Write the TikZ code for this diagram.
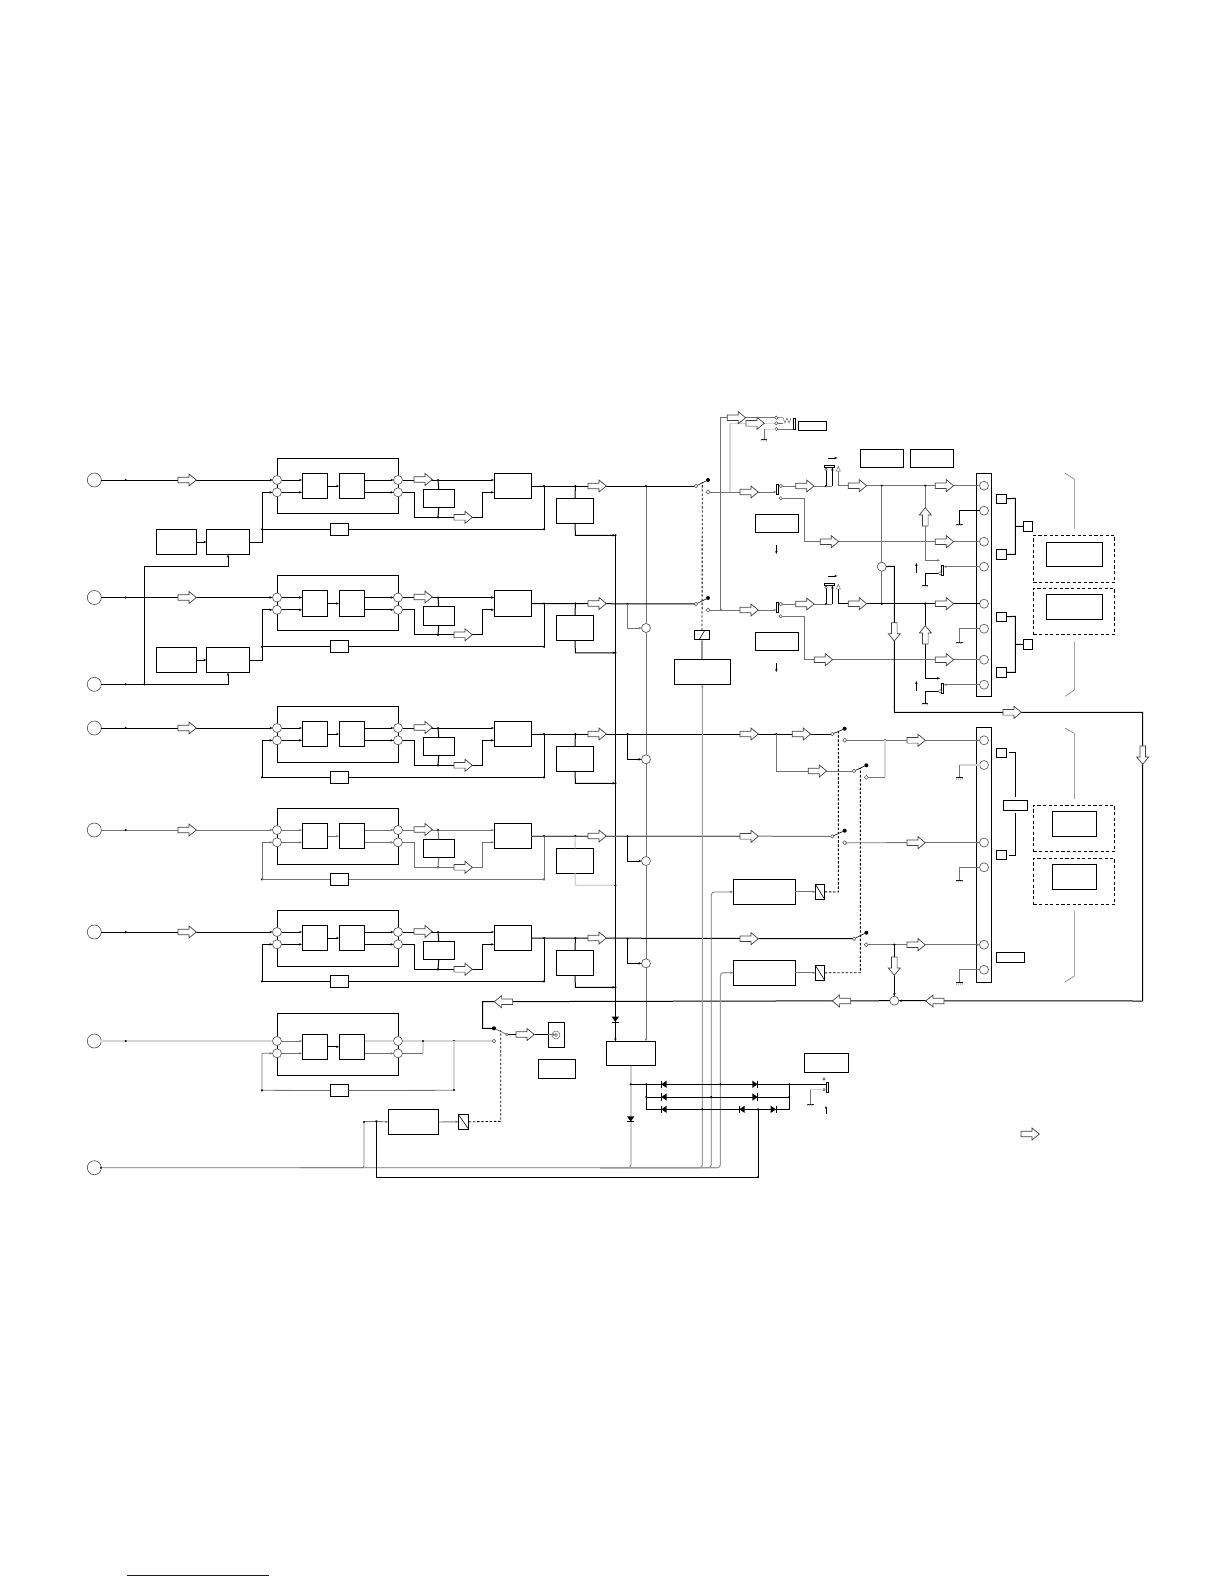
\documentclass[tikz,border=0pt]{standalone}
\usetikzlibrary{arrows.meta,shapes.geometric,calc}
\definecolor{gl}{gray}{0.45}
\definecolor{lg}{gray}{0.84}
\def\lc{black}\def\lw{1pt}
\tikzset{
 >={Stealth[length=3pt,width=2.4pt]},
 ln/.style={draw=\lc,line width=\lw},
 blk/.style={draw=black,line width=1pt},
 gry/.style={draw=gl,line width=.8pt},
 lgt/.style={draw=lg,line width=1.4pt},
 mid/.style={draw=black!40,line width=1.1pt},
 box/.style={draw=black,line width=.9pt,fill=white,inner sep=0pt,outer sep=0pt},
 incir/.style={circle,draw=black!70,line width=.6pt,fill=white,minimum size=14pt,inner sep=0pt,outer sep=0pt},
 midcir/.style={circle,draw=black!70,line width=.6pt,fill=white,minimum size=9pt,inner sep=0pt,outer sep=0pt},
 jd/.style={circle,fill=black,draw=none,minimum size=2.4pt,inner sep=0pt,outer sep=0pt},
 swdot/.style={circle,fill=black,draw=none,minimum size=4pt,inner sep=0pt,outer sep=0pt},
 contact/.style={circle,draw=black!70,fill=white,line width=.5pt,minimum size=3.4pt,inner sep=0pt,outer sep=0pt},
 dia/.style={diamond,draw=black!70,fill=white,line width=.5pt,minimum size=4pt,inner sep=0pt,outer sep=0pt},
 dbox/.style={draw=black,line width=.9pt,dashed,dash pattern=on 3.2pt off 2.4pt,inner sep=0pt,outer sep=0pt},
 dsh/.style={draw=black,line width=.9pt,dash pattern=on 2.4pt off 1.8pt},
}
\newcounter{jc}
\newcommand\J[2]{\stepcounter{jc}\node[jd] (j\arabic{jc}) at (#1,#2) {};}
\newcommand\myBox[5]{%
 \pgfmathsetmacro\bwd{#4-#2}\pgfmathsetmacro\bht{#5-#3}%
 \pgfmathsetmacro\bcx{(#2+#4)/2}\pgfmathsetmacro\bcy{(#3+#5)/2}%
 \node[box,minimum width=\bwd pt,minimum height=\bht pt] (#1) at (\bcx,\bcy) {};}
\newcommand\myDash[5]{%
 \pgfmathsetmacro\bwd{#4-#2}\pgfmathsetmacro\bht{#5-#3}%
 \pgfmathsetmacro\bcx{(#2+#4)/2}\pgfmathsetmacro\bcy{(#3+#5)/2}%
 \node[dbox,minimum width=\bwd pt,minimum height=\bht pt] (#1) at (\bcx,\bcy) {};}
% hollow arrows: tail at (x,y), angle
\newcommand\ha[3]{\begin{scope}[shift={(#1,#2)},rotate=#3]
 \draw[draw=black!75,fill=white,line width=.7pt] (0,-2.8)--(11,-2.8)--(11,-6)--(18.3,0)--(11,6)--(11,2.8)--(0,2.8)--cycle;
 \end{scope}}
\newcommand\haR[2]{\ha{#1}{#2}{0}}
\newcommand\haL[2]{\ha{#1+18.3}{#2}{180}}
\newcommand\haD[2]{\ha{#1}{#2}{-90}}
\newcommand\haU[2]{\ha{#1}{#2+18.3}{90}}
\newcommand\Dio[3]{\begin{scope}[shift={(#1,#2)},rotate=#3]
 \fill[black] (-2.6,-3.6)--(-2.6,3.6)--(2.6,0)--cycle;
 \draw[blk] (2.8,-3.6)--(2.8,3.6);
 \end{scope}}
\newcommand\Gnd[2]{\begin{scope}[shift={(#1,#2)}]
 \draw[blk] (-3.4,0)--(3.4,0);
 \draw[gry,line width=.4pt] (-2.6,0)--(-3.2,2) (-.6,0)--(-1.2,2) (1.4,0)--(.8,2) (3,0)--(2.4,2);
 \end{scope}}
% input, splitters, two inner boxes
\newcommand\core[4]{\begin{scope}[shift={(0,#2)}]
 \draw[blk] (277,#3) rectangle (398,#4);
 \node[incir] (#1in) at (94.3,480) {};
 \node[midcir] (#1ca) at (277,480) {};
 \node[midcir] (#1cb) at (277,492.3) {};
 \node[midcir] (#1cc) at (398,480) {};
 \node[midcir] (#1cd) at (398,492.3) {};
 \myBox{#1a}{302}{473.3}{327.5}{498.7}
 \myBox{#1b}{339}{473.3}{364.6}{498.7}
 \draw[ln,->] (#1in) -- (#1ca);
 \J{125.7}{480}
 \draw[ln,->] (#1ca) -- (#1a.west|-#1ca);
 \draw[ln,->] (#1cb) -- (#1a.west|-#1cb);
 \draw[ln,->] (#1a) -- (#1b);
 \draw[ln,->] (#1b.east|-#1cc) -- (#1cc);
 \draw[ln,->] (#1b.east|-#1cd) -- (#1cd);
 \end{scope}}
% remainder of a channel: prefix, dy, target of output, colour of the G lower lead
\newcommand\chan[4]{\begin{scope}[shift={(0,#2)}]
 \myBox{#1s}{423}{489.3}{454.6}{507.7}
 \myBox{#1d}{494}{473.3}{531.4}{498.7}
 \myBox{#1g}{556.4}{498.3}{593.6}{523.3}
 \myBox{#1f}{330}{523.3}{348.6}{535.3}
 \draw[ln,->] (#1cc) -- (#1d.west|-#1cc);
 \J{438}{480}\J{438}{517.3}
 \draw[ln] (438,480) -- (#1s.north);
 \draw[ln] (#1s.south) -- (438,517.3);
 \draw[ln,->] (#1cd) -- (414,492.3) -- (414,517.3) -- (482.5,517.3) -- (482.5,492.3) -- (#1d.west|-#1cd);
 \draw[ln] (#1d.east) -- (#3);
 \J{544}{486}\J{575.4}{486}\J{544}{529.3}\J{262}{529.3}
 \draw[ln] (544,486) -- (544,529.3) -- (#1f.east);
 \draw[ln,->] (#1f.west) -- (262,529.3) -- (262,492.3) -- (#1cb);
 \draw[#4] (575.4,486) -- (#1g.north);
 \draw[#4,->] (#1g.south) -- (575.4,535.3) -- (615.4,535.3);
 \J{615.4}{535.3}
 \haR{414}{479.5}\haR{454}{517.3}\haR{588}{486}
 \end{scope}}
% upper amplifier outputs
\newcommand\amp[7]{\begin{scope}[shift={(0,#2)}]
 \myBox{#1bar}{776.3}{484}{778.7}{494.7}
 \myBox{#1top}{824.3}{465}{834.7}{467.3}
 \myBox{#1lab}{755.3}{514.3}{798.7}{532.7}
 \myBox{#1bar2}{941.7}{565.3}{943.7}{575.7}
 \myBox{#1p}{996.3}{494.3}{1006.7}{503.7}
 \myBox{#1q}{996.3}{549.3}{1006.7}{559.3}
 \myBox{#1r}{1023}{521.3}{1032.7}{531.3}
 \node[midcir] (#1k1) at (984,485.7) {};
 \node[midcir] (#1k2) at (984,510.7) {};
 \node[midcir] (#1k3) at (984,541.7) {};
 \node[midcir] (#1k4) at (984,566.7) {};
 \node[contact] (#1o1) at (780.7,486) {};
 \node[contact] (#1o2) at (780.7,498.3) {};
 \node[contact] (#1o4) at (940,573.3) {};
 \draw[gry,->] (#3) -- (#1bar.west|-#3);
 \draw[gry] (#1o1) -- (826,486);
 \J{826}{486}
 \draw[blk] (826,486) -- (826,468);
 \node[contact,minimum size=2.6pt] (#1o3) at (826,469.3) {};
 \draw[gry] (826,486) -- (832.3,486);
 \draw[blk,->] (832.3,486) -- (832.3,467.5);
 \draw[draw=black!60,fill=white,line width=.5pt] (836.3,471)--(838.3,466.3)--(840.3,471)--cycle;
 \draw[#4] (838.3,471) -- (838.3,485.7) -- (#1k1);
 \J{881.7}{485.7}\J{925.3}{485.7}
 \draw[#4,->] (925.3,485.7) -- (925.3,560.3) -- (940,560.3);
 \draw[gry] (#1o2) -- (804.3,498.3) -- (804.3,541.7) -- (#1k3);
 \draw[#5] (#1k2) -- (959.3,510.7) -- (959.3,524);
 \Gnd{959.3}{524}
 \draw[gry,->] (#1k4) -- (#1bar2.east|-#1k4);
 \draw[#6] (#1o4) -- (925,573.3) -- (925,585.3);
 \Gnd{925}{585.3}
 \draw[blk,->] (828.3,458) -- (837.3,458);
 \draw[blk,->] (776.3,545) -- (776.3,554);
 \draw[blk,->] (916.3,572.7) -- (916.3,563);
 \draw[blk] (#1p) -- (1015.3,498.3) -- (1015.3,554.3) -- (#1q);
 \draw[blk] (1015.3,526.5) -- (#1r);
 \haR{740}{492}\haR{795.7}{486}\haR{848.3}{485.7}\haR{935.3}{485.7}\haR{#7}{541.7}\haR{935.3}{541.7}
 \haU{925.3}{507.7}
 \end{scope}}
\begin{document}
\begin{tikzpicture}[x=1pt,y=-1pt]
\useasboundingbox (0,0) rectangle (1224,1584);
% blue rule
\draw[draw={rgb,255:red,10;green,10;blue,160},line width=1pt] (126.7,1575) -- (269,1575);
% switches on the main rails
\node[contact] (sw1a) at (696,486) {};
\node[swdot] (sw1b) at (708,480) {};
\node[dia] (sw1c) at (708,492) {};
\node[contact] (sw2a) at (696,604) {};
\node[swdot] (sw2b) at (708,598) {};
\node[dia] (sw2c) at (708,610) {};
\node[contact] (sw3a) at (832.3,734) {};
\node[swdot] (sw3b) at (844.7,728.7) {};
\node[dia] (sw3c) at (844.7,740.3) {};
\node[contact] (sw3d) at (854,771) {};
\node[swdot] (sw3e) at (866.3,765.3) {};
\node[dia] (sw3f) at (866.3,777.3) {};
\node[contact] (sw4a) at (832.3,836.3) {};
\node[swdot] (sw4b) at (844.7,830.7) {};
\node[dia] (sw4c) at (844.7,842.7) {};
\node[contact] (sw5a) at (854,938.7) {};
\node[swdot] (sw5b) at (866.3,932.7) {};
\node[dia] (sw5c) at (866.3,944.7) {};
\foreach \p in {1,2,3,4,5} {\draw[blk,line width=.6pt] (sw\p a) -- (sw\p b);}
\draw[blk,line width=.6pt] (sw3d) -- (sw3e);
% common verticals
\node[midcir] (m2) at (646,628) {};
\node[midcir] (m3) at (646,759.3) {};
\node[midcir] (m4) at (646,861) {};
\node[midcir] (m5) at (646,963.3) {};
\myBox{sw}{606.3}{1041.3}{655.7}{1065.7}
\draw[gry] (646,486) -- (m2) -- (m3) -- (m4) -- (m5);
\draw[gry,->] (m5) -- (sw.north-|m5);
\J{646}{486}
\draw[blk,->] (615.4,535.3) -- (615.4,1041.3);
% channels
\core{a}{0}{458.3}{513.3}
\core{b}{117.5}{458.3}{513.3}
\core{c}{248}{458.3}{514.3}
\def\lc{gl}
\core{d}{350}{458.3}{514.3}
\def\lc{black}
\core{e}{452}{458.3}{514.3}
\chan{a}{0}{sw1a}{blk}
\chan{b}{117.5}{sw2a}{blk}
\chan{c}{248}{sw3a}{blk}
\def\lc{gl}
\draw[draw=black!70,line width=1pt] (535,836.3) -- (740,836.3);
\chan{d}{350}{sw4a}{lgt}
\draw[draw=black!70,line width=1pt] (dd.east|-sw4a) -- (588,836.3);
\def\lc{black}
\chan{e}{452}{sw5a}{blk}
% branch lines to the small circles
\J{627.5}{604}\J{627.6}{734}\J{627.6}{836.3}\J{627.6}{938.7}
\draw[gry,->] (627.5,604) -- (627.5,628) -- (m2);
\draw[blk,->] (627.6,734) -- (627.6,759.3) -- (m3);
\draw[blk,->] (627.6,836.3) -- (627.6,861) -- (m4);
\draw[blk,->] (627.6,938.7) -- (627.6,963.3) -- (m5);
% boxes E,F at channels 1,2
\myBox{e1}{206.4}{529.3}{249.6}{554.7}
\myBox{f1}{156.4}{529.3}{196.8}{554.7}
\myBox{e2}{206.4}{647.3}{249.6}{672.7}
\myBox{f2}{156.4}{647.3}{196.8}{672.7}
\node[incir] (in3) at (94.3,684.3) {};
\draw[blk,->] (f1) -- (e1);
\draw[blk,->] (f2) -- (e2);
\draw[blk] (e1) -- (262,542) -- (262,529.3);
\draw[blk] (e2) -- (262,660) -- (262,647);
\J{144.3}{684.3}\J{125.7}{684.3}
\draw[blk,->] (in3) -- (228,684.3) -- (e2.south);
\draw[blk,->] (144.3,684.3) -- (144.3,566.3) -- (228,566.3) -- (e1.south);
\haR{178}{480}\haR{178}{597.5}\haR{178}{728}\haR{178}{830}\haR{178}{932}
% channel 6
\draw[blk] (277,1013.3) rectangle (398,1075.3);
\node[incir] (f6in) at (94.3,1041) {};
\node[midcir] (f6a) at (277,1041) {};
\node[midcir] (f6b) at (277,1053.3) {};
\node[midcir] (f6c) at (398,1041) {};
\node[midcir] (f6d) at (398,1053.3) {};
\myBox{f6x}{302}{1034.3}{327.5}{1059.3}
\myBox{f6y}{339}{1034.3}{364.6}{1059.3}
\myBox{f6s}{330}{1084.3}{348.7}{1096.7}
\node[contact] (f6o) at (494,1041) {};
\node[swdot] (f6t) at (494,1028.3) {};
\draw[lgt,->] (f6in) -- (f6a);
\J{125.7}{1041}
\draw[gry,->] (f6a) -- (f6x.west|-f6a);
\draw[gry,->] (f6b) -- (f6x.west|-f6b);
\draw[blk,->] (f6x) -- (f6y);
\draw[lgt,->] (f6y.east|-f6c) -- (f6c);
\draw[gry,->] (f6y.east|-f6d) -- (f6d);
\draw[lgt] (f6c) -- (f6o);
\draw[gry] (f6d) -- (423,1053.3);
\draw[lgt] (423,1053.3) -- (423,1041);
\J{423}{1041}\J{454}{1041}
\draw[lgt] (454,1041) -- (454,1090.3);
\draw[gry] (454,1090.3) -- (f6s.east);
\J{454}{1090}
\draw[gry,->] (f6s.west) -- (262,1090.3) -- (262,1053.3) -- (f6b);
\J{262}{1090.3}
% coax output
\myBox{cx}{548.3}{1022.3}{564.3}{1047.7}
\myBox{cxl}{538.3}{1059.3}{575.7}{1078.7}
\draw[draw=black!60,line width=.5pt] (556,1035) circle (4) circle (1.5);
\node[contact,minimum size=2.6pt] (f6u) at (507,1034.5) {};
\draw[gry] (f6t) -- (f6u);
\draw[blk] (f6u) -- (cx.west|-f6u);
\draw[gry,->] (cx.west|-f6u) -- (556,1034.5);
\haR{516}{1034.5}
\node[midcir] (lp) at (894.3,1000.7) {};
\draw[blk] (lp) -- (482.7,1001.7) -- (482.7,1028.3) -- (f6t);
\draw[blk,->] (1142.7,1001) -- (lp);
% relay + amp, coax
\myBox{rb6}{388.3}{1109.3}{438.7}{1134.7}
\myBox{rl6}{458.3}{1114.3}{468.7}{1129.3}
\draw[gry,->] (rb6) -- (rl6);
\draw[blk,line width=.6pt] (rl6.north west) -- (rl6.south east);
\draw[dsh] (rl6.east) -- (500.7,1121.3) -- (500.7,1030);
% bottom rail
\node[incir] (in7) at (94.3,1167.7) {};
\J{101}{1167.7}
\draw[gry,rounded corners=3pt] (in7) -- (631,1167.7) -- (631,1065.7);
\draw[mid,rounded corners=3pt,->] (600,1167.7) -- (702.3,1167.7) -- (702.3,684.3);
\draw[gry,rounded corners=3pt] (600,1167.7) -- (711.3,1167.7) -- (711.3,892) -- (725,892);
\draw[mid,rounded corners=3pt] (600,1167.7) -- (720.3,1167.7) -- (720.3,972.7) -- (727,972.7);
\draw[gry,rounded corners=2pt] (300,1167.7) -- (364,1167.7) -- (364,1121.3);
\draw[gry] (364,1121.3) -- (376.3,1121.3);
\draw[gry,->] (376.3,1121.3) -- (rb6.west);
\J{364}{1122}\J{376.3}{1121.3}
\draw[blk] (376.3,1121.3) -- (376.3,1177.3) -- (758,1177.3) -- (758,1109.3);
\J{758}{1177}
% select boxes
\myBox{sel}{674.3}{659.3}{730.3}{684.3}
\myBox{rlsel}{694.3}{630.3}{709.7}{639.3}
\draw[mid,->] (sel.north-|rlsel) -- (rlsel.south);
\draw[blk,line width=.6pt] (rlsel.south west) ++(5,0) -- ++(5.5,-9);
\draw[dsh] (rlsel.north) -- (702.3,482);
\myBox{rb4}{733}{879.3}{795.3}{904.3}
\myBox{rl4}{815.3}{884.3}{824.7}{899.3}
\myBox{rb5}{733}{960.3}{795.3}{985.3}
\myBox{rl5}{815.3}{965.3}{824.7}{980.3}
\draw[gry,->] (725,892) -- (rb4.west);
\draw[gry,->] (727,972.7) -- (rb5.west);
\draw[gry,->] (rb4) -- (rl4);
\draw[gry,->] (rb5) -- (rl5);
\draw[blk,line width=.6pt] (rl4.north west) -- (rl4.south east);
\draw[blk,line width=.6pt] (rl5.north west) -- (rl5.south east);
\draw[dsh] (rl4.east) -- (838.3,892) -- (838.3,731);
\draw[dsh] (rl5.east) -- (860.3,972.7) -- (860.3,768);
% diodes, lower block
\Dio{615.3}{1019.3}{-90}
\Dio{630.7}{1119}{-90}
\draw[blk] (630.7,1084.3) -- (826.5,1084.3);
\draw[blk] (646.3,1084.3) -- (646.3,1109.3) -- (789.3,1109.3) -- (789.3,1084.3);
\draw[blk] (646.3,1097) -- (789.3,1097);
\J{630.7}{1084.3}\J{646.3}{1084.3}\J{646.3}{1097}\J{789.3}{1084.3}\J{789.3}{1097}
\J{720.3}{1084.3}\J{711.3}{1097}\J{702.3}{1109.3}\J{758}{1109.3}
\Dio{664}{1084.3}{180}\Dio{664}{1097}{180}\Dio{664}{1109.3}{180}
\Dio{755}{1084.3}{0}\Dio{755}{1097}{0}
\Dio{742}{1109.3}{180}\Dio{773.3}{1109.3}{0}
\myBox{bar7}{826.7}{1082.7}{828.7}{1092.7}
\myBox{lab7}{804.3}{1053.3}{848.7}{1072.7}
\node[contact,minimum size=2.4pt] (s71) at (824,1079) {};
\node[contact,minimum size=2.4pt] (s72) at (824,1089.7) {};
\draw[lgt,line width=1pt] (s72) -- (810.3,1089.7);
\draw[gry] (810.3,1089.7) -- (810.3,1104);
\Gnd{810.3}{1104}
\draw[blk,->] (826,1114.3) -- (826,1106);
% right side main lines
\draw[gry] (sw1c) -- (773,492);
\J{730}{492}\J{720.7}{610}
\draw[lgt] (730,492) -- (730,423.3) -- (776.3,423.3);
\draw[gry] (720.7,610) -- (720.7,417.7) -- (776.3,417.7);
\node[contact] (t1) at (776.3,417.7) {};
\node[contact] (t2) at (776.3,423.3) {};
\node[contact] (t3) at (776.3,429) {};
\myBox{tb}{793.3}{418.3}{795.7}{429.7}
\myBox{tl}{798.3}{421.3}{826.7}{430.7}
\draw[draw=black!60,line width=.5pt] (t1) -- (783,417.7) -- (785,423) -- (787,418) -- (789,423) -- (791,418);
\draw[draw=black!60,line width=.5pt] (t2) -- (783,423.3);
\draw[gry,line width=1pt] (t3) -- (tb.west|-t3);
\draw[lgt,line width=1pt] (t3) -- (764,429);
\draw[gry] (764,429) -- (764,439.3);
\Gnd{764}{439.3}
\haR{727.3}{417.7}\haR{746}{423.3}
\myBox{h1}{860.3}{449.3}{903.7}{467.7}
\myBox{h2}{910.3}{449.3}{953.7}{467.7}
% connector strips
\myBox{cnA}{976.3}{473.3}{991.3}{696.3}
\myBox{cnB}{976.3}{727.3}{991.3}{982.7}
\amp{u}{0}{sw1c}{gry}{blk}{blk}{820.3}
\amp{v}{118}{sw2c}{blk}{gry}{blk}{814.3}
% vertical with circle between the two rails
\node[midcir] (sum) at (881.7,566.7) {};
\draw[gry] (881.7,485.7) -- (sum);
\draw[gry] (sum) -- (881.7,603.7);
\J{881.7}{603.7}\J{925.3}{603.7}
\draw[blk] (sum) -- (894.3,566.3) -- (894.3,712.3) -- (1142.7,712.3) -- (1142.7,1001);
\haD{894.3}{622.7}
\haR{1003}{712.3}
\haD{1142.7}{746}
\haL{925.7}{1001}
\haL{832.3}{1001}
\haL{494.3}{1001.7}
% lower strip
\node[midcir] (k1) at (984,740.3) {};
\node[midcir] (k2) at (984,765) {};
\node[midcir] (k3) at (984,842.5) {};
\node[midcir] (k4) at (984,867.3) {};
\node[midcir] (k5) at (984,944.7) {};
\node[midcir] (k6) at (984,969.7) {};
\draw[gry,->] (sw3c) -- (k1);
\draw[gry,->] (sw4c) -- (k3);
\draw[gry,line width=1.1pt,->] (sw5c) -- (k5);
\J{885}{740.3}
\draw[lgt] (885,740.3) -- (885,777.3);
\draw[gry] (885,777.3) -- (sw3f);
\J{776.3}{734}
\draw[gry] (776.3,734) -- (776.3,771) -- (sw3d);
\draw[lgt] (k2) -- (959.7,765);
\draw[gry] (959.7,765) -- (959.7,777.7);
\Gnd{959.7}{777.7}
\draw[gry] (k4) -- (959.7,867.3) -- (959.7,880);
\Gnd{959.7}{880}
\draw[gry] (k6) -- (959.7,969.7) -- (959.7,982.7);
\Gnd{959.7}{982.7}
\J{894.3}{944.7}
\draw[blk,->] (894.3,944.7) -- (lp);
\haR{740}{734}\haR{792.3}{734}\haR{808.3}{771}\haR{907}{740.3}
\haR{740}{836.3}\haR{907}{842.7}
\haR{740}{938.7}\haR{907}{944.7}
\haD{894.3}{957}
\myBox{w1}{996.3}{748.3}{1006.7}{757.3}
\myBox{w2}{996.3}{850.3}{1006.7}{859.3}
\myBox{w3}{1003.3}{800.3}{1027.7}{810.3}
\myBox{w4}{996.3}{952.3}{1024.7}{962.3}
\draw[blk] (w1.east) ++(2.3,0) -- (1015.3,752.8) -- (1015.3,796.7);
\draw[blk] (1015.3,813.3) -- (1015.3,855) -- (1009,855);
% gray brackets
\draw[gry,line width=.6pt] (1065.3,473.3) -- (1074.3,479) -- (1074.3,529);
\draw[gry,line width=.6pt] (1074.3,641.3) -- (1074.3,690) -- (1065.3,696.3);
\draw[gry,line width=.6pt] (1065.3,728.3) -- (1074.3,733.3) -- (1074.3,799);
\draw[gry,line width=.6pt] (1074.3,910.3) -- (1074.3,976) -- (1065.3,981.7);
% dashed boxes
\myDash{da}{1033.3}{535.3}{1114.7}{582.3}
\myDash{db}{1033.3}{588.3}{1114.7}{634.3}
\myDash{dc}{1033.3}{805.3}{1114.7}{851.3}
\myDash{dd}{1033.3}{858.3}{1114.7}{904.3}
\myBox{ia}{1046.3}{542.3}{1102.7}{566.3}
\myBox{ib}{1046.3}{594.3}{1102.7}{619.7}
\myBox{ic}{1052.3}{811.3}{1096.7}{836.3}
\myBox{id}{1052.3}{864.3}{1096.7}{889.3}
\haR{1021}{1134}
\end{tikzpicture}
\end{document}
